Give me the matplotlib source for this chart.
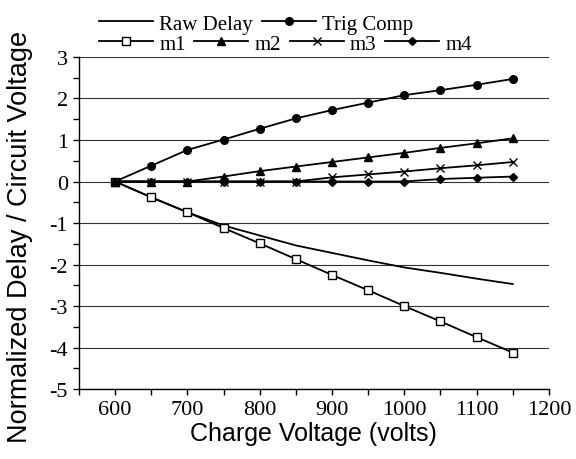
import matplotlib.pyplot as plt
from matplotlib.ticker import MultipleLocator

plt.rcParams['axes.unicode_minus'] = False

# charge voltage (volts)
volts = [600, 650, 700, 750, 800, 850, 900, 950, 1000, 1050, 1100, 1150]

raw_delay = [0, -0.38, -0.74, -1.06, -1.30, -1.54, -1.72, -1.90, -2.07, -2.20, -2.34, -2.47]
trig_comp = [0, 0.38, 0.76, 1.01, 1.27, 1.52, 1.72, 1.90, 2.08, 2.20, 2.33, 2.47]
m1 = [0, -0.38, -0.74, -1.12, -1.49, -1.87, -2.25, -2.62, -3.00, -3.37, -3.75, -4.12]
m2 = [0, 0, 0, 0.12, 0.25, 0.36, 0.47, 0.58, 0.69, 0.81, 0.92, 1.04]
m3 = [0, 0, 0, 0, 0, 0, 0.10, 0.17, 0.24, 0.32, 0.39, 0.47]
m4 = [0, 0, 0, 0, 0, 0, 0, 0, 0, 0.06, 0.09, 0.12]

serif = 'Liberation Serif'
sans = 'Liberation Sans'

fig = plt.figure(figsize=(5.76, 4.6), dpi=100)
ax = fig.add_axes([0.137, 0.152, 0.816, 0.722])

lw = 1.3
l_raw, = ax.plot(volts, raw_delay, color='black', lw=lw, label='Raw Delay')
l_trig, = ax.plot(volts, trig_comp, color='black', lw=lw, marker='o', ms=5.5, label='Trig Comp')
l_m1, = ax.plot(volts, m1, color='black', lw=lw, marker='s', ms=5.5,
                mfc='white', mec='black', mew=1, label='m1')
l_m2, = ax.plot(volts, m2, color='black', lw=lw, marker='^', ms=6, label='m2')
l_m3, = ax.plot(volts, m3, color='black', lw=lw, marker='x', ms=6, mew=1, label='m3')
l_m4, = ax.plot(volts, m4, color='black', lw=lw, marker='D', ms=4.5, label='m4')

ax.set_xlim(550, 1200)
ax.set_ylim(-5, 3)
ax.xaxis.set_major_locator(MultipleLocator(100))
ax.xaxis.set_minor_locator(MultipleLocator(50))
ax.yaxis.set_major_locator(MultipleLocator(1))
ax.yaxis.set_minor_locator(MultipleLocator(0.5))
ax.yaxis.grid(True, which='major', color='#333333', lw=0.8)
ax.set_axisbelow(True)

for s in ['top', 'right']:
    ax.spines[s].set_visible(False)
for s in ['left', 'bottom']:
    ax.spines[s].set_linewidth(1.0)

ax.tick_params(which='both', direction='out', length=4, width=1, labelsize=16)
ax.tick_params(axis='y', pad=4)
ax.tick_params(axis='x', pad=4)
for lab in ax.get_xticklabels() + ax.get_yticklabels():
    lab.set_fontfamily(serif)

ax.set_xlabel('Charge Voltage (volts)', fontsize=18, fontfamily=sans, labelpad=1)
ax.set_ylabel('Normalized Delay / Circuit Voltage', fontsize=19.5, fontfamily=sans)
ax.yaxis.set_label_coords(-0.098, 0.46)

leg_kw = dict(frameon=False, handlelength=2.6, handletextpad=0.3, columnspacing=0.4,
              borderpad=0, borderaxespad=0, prop={'family': serif, 'size': 15})
leg1 = fig.legend(handles=[l_raw, l_trig], ncol=2, loc='upper left',
                  bbox_to_anchor=(0.172, 0.967), **leg_kw)
leg2 = fig.legend(handles=[l_m1, l_m2, l_m3, l_m4], ncol=4, loc='upper left',
                  bbox_to_anchor=(0.172, 0.924), **leg_kw)

fig.savefig('out.png', dpi=100)
